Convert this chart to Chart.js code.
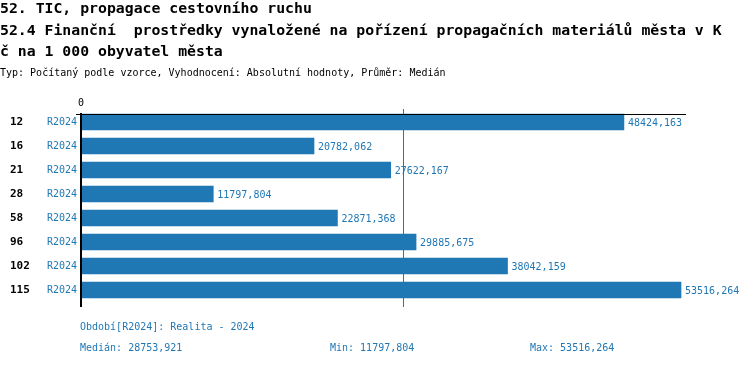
<!DOCTYPE html>
<html>
<head>
<meta charset="utf-8">
<script src="https://cdn.jsdelivr.net/npm/chart.js@4"></script>
<style>
  body { margin: 0; background: #fff; }
  #wrap { position: relative; width: 750px; height: 366px; overflow: hidden; font-family: "DejaVu Sans Mono", monospace; }
  #wrap canvas { position: absolute; left: 0; top: 0; }
  .t { position: absolute; left: 0; white-space: pre; font-weight: bold; font-size: 14.8px; line-height: 21px; color: #000; }
  .s { position: absolute; white-space: pre; font-size: 10px; line-height: 12px; }
  .blue { color: #1f77b4; }
</style>
</head>
<body>
<div id="wrap">
  <canvas id="myChart" width="750" height="366"></canvas>
  <div class="t" style="top:-3px">52. TIC, propagace cestovního ruchu</div>
  <div class="t" style="top:19px">52.4 Finanční  prostředky vynaložené na pořízení propagačních materiálů města v K</div>
  <div class="t" style="top:40px">č na 1 000 obyvatel města</div>
  <div class="s" style="top:67px;left:0">Typ: Počítaný podle vzorce, Vyhodnocení: Absolutní hodnoty, Průměr: Medián</div>
  <div class="s blue" id="obdobi" style="top:321px;left:80px"></div>
  <div class="s blue" id="median" style="top:342px;left:80px"></div>
  <div class="s blue" id="min" style="top:342px;left:330px"></div>
  <div class="s blue" id="max" style="top:342px;left:530px"></div>
</div>
<script>
// obce (kategorie) a hodnoty z obrázku
const categories = ['12', '16', '21', '28', '58', '96', '102', '115'];
const periods = ['R2024', 'R2024', 'R2024', 'R2024', 'R2024', 'R2024', 'R2024', 'R2024'];
const values = [48424.163, 20782.062, 27622.167, 11797.804, 22871.368, 29885.675, 38042.159, 53516.264];
const xTicks = [0];
const periodNote = ['Období[R2024]: Realita - 2024'];

const blue = '#1f77b4';
const mono = '"DejaVu Sans Mono", monospace';
const fmt = v => v.toFixed(3).replace('.', ',');

const sorted = [...values].sort((a, b) => a - b);
const median = (sorted[3] + sorted[4]) / 2;

document.getElementById('obdobi').textContent = periodNote[0];
document.getElementById('median').textContent = 'Medián: ' + fmt(median);
document.getElementById('min').textContent = 'Min: ' + fmt(Math.min(...values));
document.getElementById('max').textContent = 'Max: ' + fmt(Math.max(...values));

const extras = {
  id: 'extras',
  beforeDatasetsDraw(chart) {
    const { ctx, chartArea, scales } = chart;
    const mx = Math.round(scales.x.getPixelForValue(median)) + 0.5;
    ctx.save();
    ctx.strokeStyle = blue;
    ctx.lineWidth = 1;
    ctx.beginPath();
    ctx.moveTo(mx, chartArea.top - 1);
    ctx.lineTo(mx, chartArea.bottom + 5);
    ctx.stroke();
    ctx.restore();
  },
  afterDatasetsDraw(chart) {
    const { ctx, chartArea } = chart;
    ctx.save();
    // osy
    ctx.strokeStyle = '#000';
    ctx.lineWidth = 1;
    ctx.beginPath();
    ctx.moveTo(chartArea.left - 5, chartArea.top + 4.5);
    ctx.lineTo(chartArea.right, chartArea.top + 4.5);
    ctx.stroke();
    ctx.lineWidth = 2;
    ctx.beginPath();
    ctx.moveTo(chartArea.left, chartArea.top + 3);
    ctx.lineTo(chartArea.left, chartArea.bottom + 5);
    ctx.stroke();
    // popisky hodnot
    ctx.fillStyle = blue;
    ctx.font = '10px ' + mono;
    ctx.textBaseline = 'middle';
    ctx.textAlign = 'left';
    chart.getDatasetMeta(0).data.forEach((bar, i) => {
      ctx.fillText(fmt(values[i]), bar.x + 4, bar.y + 1);
    });
    ctx.restore();
  }
};

const ctx = document.getElementById('myChart').getContext('2d');

new Chart(ctx, {
  type: 'bar',
  data: {
    labels: categories,
    datasets: [{
      data: values,
      backgroundColor: blue,
      barThickness: 16,
      yAxisID: 'y'
    }]
  },
  options: {
    indexAxis: 'y',
    responsive: false,
    animation: false,
    layout: { padding: { left: 10, top: 90, right: 64, bottom: 64 } },
    plugins: { legend: { display: false }, tooltip: { enabled: false } },
    scales: {
      x: {
        position: 'top',
        min: 0,
        max: 53962,
        grid: { display: false, drawTicks: false },
        border: { display: false },
        afterBuildTicks: scale => { scale.ticks = xTicks.map(v => ({ value: v })); },
        afterFit: scale => { scale.height = 20; },
        ticks: { color: '#000', font: { family: mono, size: 10 }, padding: 1, maxRotation: 0 }
      },
      y: {
        position: 'left',
        weight: 0,
        grid: { display: false, drawTicks: false },
        border: { display: false },
        afterFit: scale => { scale.width = 36; },
        ticks: {
          color: blue,
          font: { family: mono, size: 10 },
          padding: 4,
          callback: (v, i) => periods[i]
        }
      },
      y2: {
        type: 'category',
        labels: categories,
        position: 'left',
        weight: 1,
        grid: { display: false, drawTicks: false },
        border: { display: false },
        afterFit: scale => { scale.width = 35; },
        ticks: {
          color: '#000',
          crossAlign: 'far',
          font: { family: mono, size: 11, weight: 'bold' }
        }
      }
    }
  },
  plugins: [extras]
});
</script>
</body>
</html>
